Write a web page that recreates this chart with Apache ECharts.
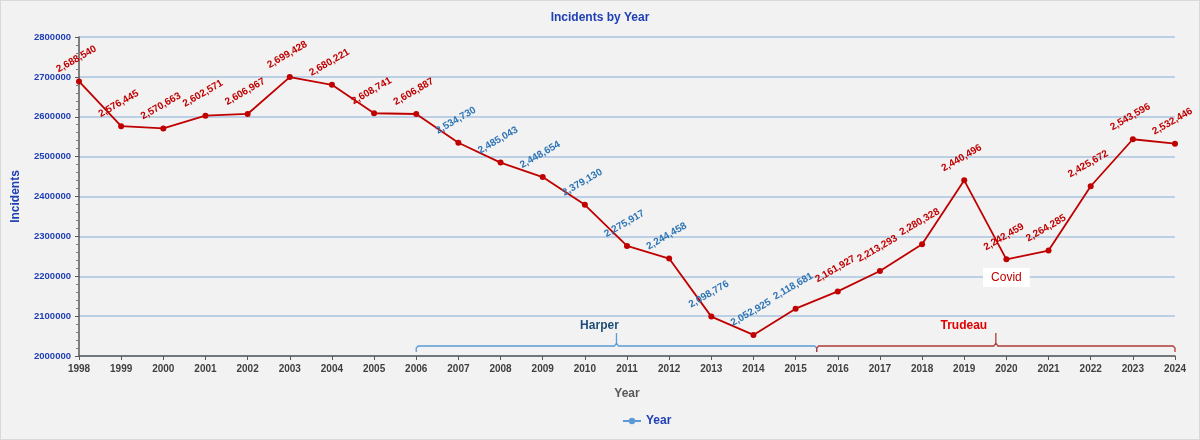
<!DOCTYPE html>
<html>
<head>
<meta charset="utf-8">
<script src="https://cdn.jsdelivr.net/npm/echarts@6/dist/echarts.min.js"></script>
<style>
html,body{margin:0;padding:0;background:#f2f2f2;}
#c{width:1200px;height:440px;box-sizing:border-box;border:1px solid #d9d9d9;}
</style>
</head>
<body>
<div id="c"></div>
<script>
const years = [1998,1999,2000,2001,2002,2003,2004,2005,2006,2007,2008,2009,2010,2011,2012,2013,2014,2015,2016,2017,2018,2019,2020,2021,2022,2023,2024];
const incidents = [2688540,2576445,2570663,2602571,2606967,2699428,2680221,2608741,2606887,2534730,2485043,2448654,2379130,2275917,2244458,2098776,2052925,2118681,2161927,2213293,2280328,2440496,2242459,2264285,2425672,2543596,2532446];
const bracketNames = ['Harper','Trudeau'];
const bracketStart = [2006, 2015.5];
const bracketEnd = [2015.5, 2024];
const blueLabelFrom = 2007, blueLabelTo = 2015;

const FONT = '"Liberation Sans", Arial, sans-serif';
const RED = '#c00000', BLUE = '#2e75b6';
const bracketColors = ['#5b9bd5', '#b03a3a'];
const bracketTextColors = ['#1f4e79', '#e00000'];
const bracketTextShift = [-17, -32];

const chart = echarts.init(document.getElementById('c'));
const lineData = years.map((y, i) => ({
  value: [y, incidents[i]],
  label: { color: (y >= blueLabelFrom && y <= blueLabelTo) ? BLUE : RED }
}));

chart.setOption({
  backgroundColor: '#f2f2f2',
  textStyle: { fontFamily: FONT },
  title: {
    text: 'Incidents by Year', left: 'center', top: 6,
    textStyle: { fontSize: 12, fontWeight: 'bold', color: '#1f3fb5', fontFamily: FONT }
  },
  legend: {
    bottom: 12, left: 621,
    data: [{ name: 'Year', itemStyle: { color: '#5b9bd5' }, lineStyle: { color: '#5b9bd5', width: 2 } }],
    textStyle: { fontWeight: 'bold', color: '#1f3fb5', fontSize: 12, fontFamily: FONT },
    itemWidth: 18, itemHeight: 8, itemGap: 4, padding: 0
  },
  grid: { left: 78, right: 24, top: 36, bottom: 83 },
  xAxis: {
    type: 'value', min: 1998, max: 2024, interval: 1,
    name: 'Year', nameLocation: 'middle', nameGap: 32,
    nameTextStyle: { fontWeight: 'bold', color: '#595959', fontSize: 12 },
    axisLine: { lineStyle: { color: '#595959', width: 1.5 } },
    axisTick: { show: true, length: 4, lineStyle: { color: '#595959' } },
    axisLabel: { color: '#404040', fontWeight: 'bold', fontSize: 10, margin: 8, formatter: v => String(v) },
    splitLine: { show: false }
  },
  yAxis: {
    type: 'value', min: 2000000, max: 2800000, interval: 100000,
    name: 'Incidents', nameLocation: 'middle', nameGap: 57,
    nameTextStyle: { fontWeight: 'bold', color: '#1f3fb5', fontSize: 12 },
    axisLine: { show: true, lineStyle: { color: '#595959', width: 1.5 } },
    axisTick: { show: true, length: 4, lineStyle: { color: '#595959' } },
    minorTick: { show: true, splitNumber: 5, length: 3, lineStyle: { color: '#7f7f7f' } },
    axisLabel: { color: '#1f3fb5', fontWeight: 'bold', fontSize: 9.5, margin: 8, formatter: v => String(v) },
    splitLine: { show: true, lineStyle: { color: '#a9c4df', width: 1.5 } }
  },
  series: [
    {
      name: 'Year', type: 'line', data: lineData,
      symbol: 'circle', symbolSize: 6,
      itemStyle: { color: RED },
      lineStyle: { color: RED, width: 1.8 },
      label: {
        show: true, position: 'top', rotate: 30, distance: 15,
        fontSize: 10, fontWeight: 'bold', fontFamily: FONT,
        formatter: p => p.value[1].toLocaleString('en-US')
      },
      markPoint: {
        symbol: 'rect', symbolSize: 0,
        data: [{ coord: [2020, 2197000], value: 'Covid' }],
        label: {
          show: true, formatter: 'Covid', color: '#c00000', fontSize: 12,
          backgroundColor: '#ffffff', padding: [4, 8, 3, 8], fontFamily: FONT
        }
      },
      z: 3
    },
    {
      name: 'brackets', type: 'custom',
      data: bracketNames.map((n, i) => [bracketStart[i], bracketEnd[i], i]),
      encode: { x: [0, 1] },
      silent: true,
      renderItem: function (params, api) {
        const idx = api.value(2);
        const a = api.coord([api.value(0), 2000000]);
        const b = api.coord([api.value(1), 2000000]);
        const x0 = a[0], x1 = b[0], xm = (x0 + x1) / 2;
        const yb = a[1] - 10;
        const col = bracketColors[idx];
        return {
          type: 'group',
          children: [
            {
              type: 'polyline',
              shape: { points: [[x0, yb + 6], [x0, yb + 2], [x0 + 2, yb], [xm - 2, yb], [xm, yb - 3], [xm, yb - 13], [xm, yb - 3], [xm + 2, yb], [x1 - 2, yb], [x1, yb + 2], [x1, yb + 6]] },
              style: { stroke: col, lineWidth: 1.3, fill: null }
            },
            {
              type: 'text',
              style: {
                text: bracketNames[idx], x: xm + bracketTextShift[idx], y: yb - 20,
                textAlign: 'center', textVerticalAlign: 'middle',
                fill: bracketTextColors[idx], font: 'bold 12px ' + FONT
              }
            }
          ]
        };
      },
      z: 2
    }
  ]
});
</script>
</body>
</html>
